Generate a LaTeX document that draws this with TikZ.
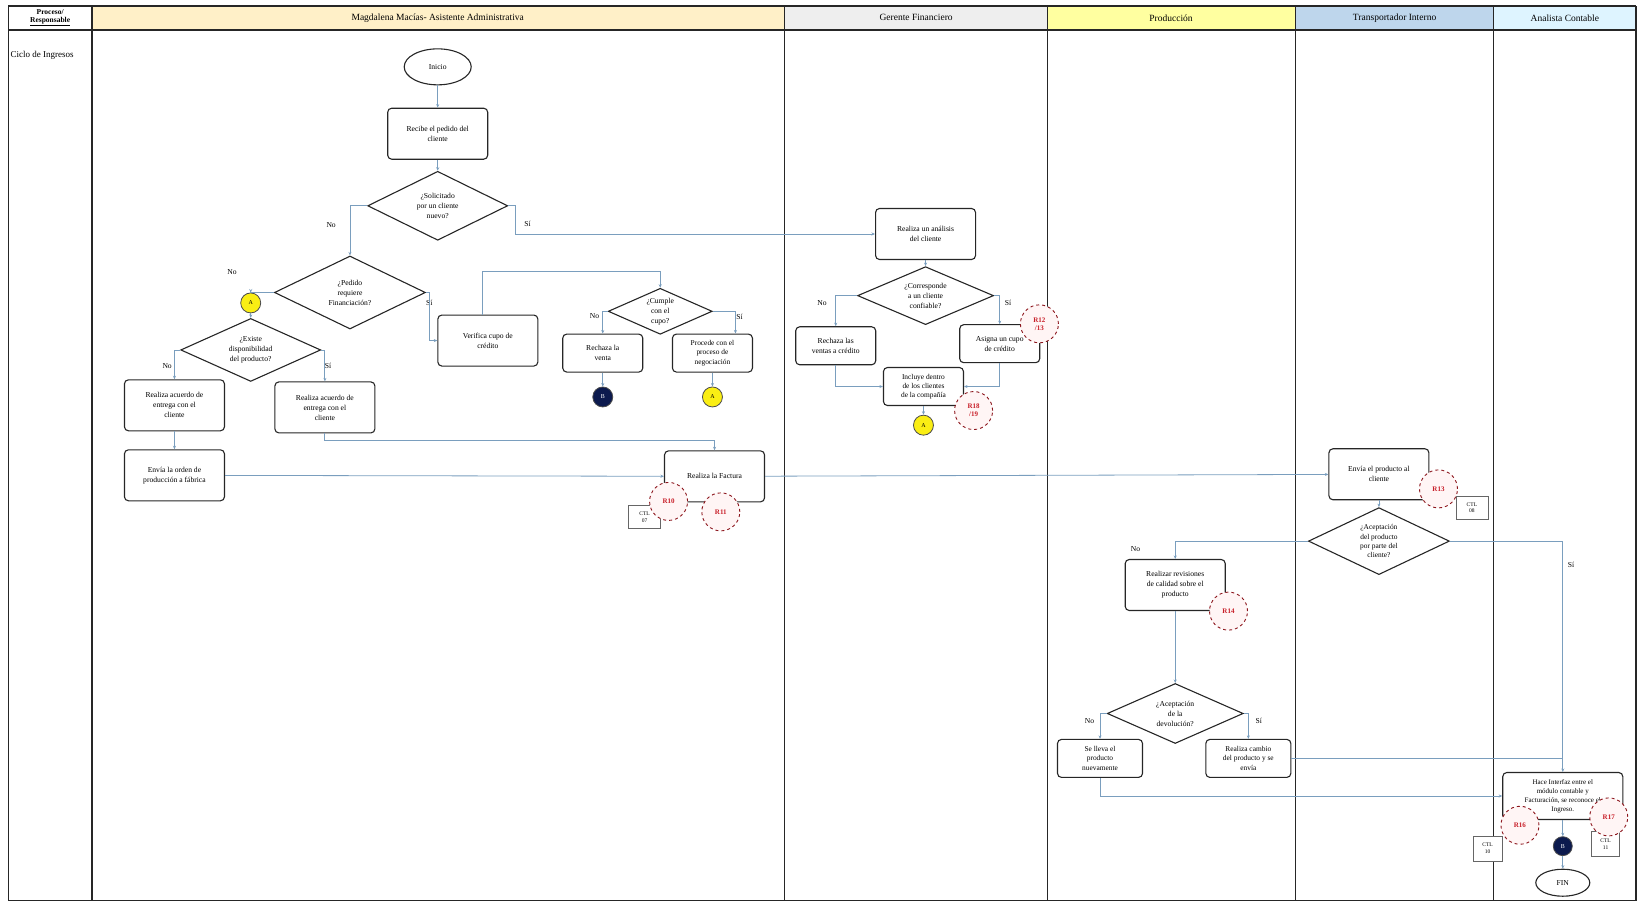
\documentclass[tikz,border=0pt]{standalone}
\usepackage{fontspec}
\setmainfont{Liberation Serif}
\usetikzlibrary{positioning,shapes.geometric,arrows.meta}
\definecolor{flowblue}{RGB}{122,158,190}
\definecolor{hdadmin}{RGB}{255,240,200}
\definecolor{hdfin}{RGB}{238,238,238}
\definecolor{hdprod}{RGB}{255,255,160}
\definecolor{hdtrans}{RGB}{190,214,236}
\definecolor{hdcont}{RGB}{222,244,255}
\definecolor{conafill}{RGB}{250,238,20}
\definecolor{conbfill}{RGB}{12,26,78}
\definecolor{riskred}{RGB}{200,30,40}
\newcommand{\boxfont}{\fontsize{7.6}{10}\selectfont}
\newcommand{\boxfonttight}{\fontsize{7.4}{9.2}\selectfont}
\tikzset{
    bigbox/.style={
        rectangle,
        rounded corners=4pt,
        draw=black!85,
        line width=1.1pt, % borde grueso
        fill=white,
        minimum width=100pt,
        minimum height=51pt,
        align=center,
        inner sep=1pt,
        font=\boxfont
    },
    smallbox/.style={
        bigbox,
        minimum width=80pt,
        minimum height=38pt
    },
    decnode/.style={
        diamond,
        aspect=2,
        draw=black!85,
        line width=1.1pt,
        fill=white,
        inner sep=0pt,
        align=center,
        font=\boxfont
    },
    termnode/.style={
        ellipse,
        draw=black!85,
        line width=1.1pt,
        fill=white,
        inner sep=0pt,
        font=\fontsize{7.6}{9}\selectfont
    },
    conanode/.style={
        circle,
        draw=black!70,
        line width=0.8pt,
        fill=conafill,
        minimum size=20pt,
        inner sep=0pt,
        font=\fontsize{6}{7}\selectfont
    },
    conbnode/.style={
        conanode,
        fill=conbfill,
        text=white
    },
    risknode/.style={
        circle,
        draw=riskred!70!black,
        dashed,
        line width=0.9pt,
        fill=red!4,
        minimum size=38pt,
        inner sep=0pt,
        align=center,
        text=riskred,
        font=\bfseries\fontsize{7}{8}\selectfont
    },
    ctlnode/.style={
        rectangle,
        draw=black!60,
        fill=white,
        minimum width=32pt,
        minimum height=23pt,
        inner sep=0pt,
        align=center,
        font=\fontsize{5.5}{6.5}\selectfont
    },
    lbl/.style={font=\fontsize{7.6}{9}\selectfont, inner sep=1pt},
    headtxt/.style={font=\fontsize{9.5}{10}\selectfont, align=center, inner sep=0pt},
    flow/.style={draw=flowblue, line width=0.8pt, -{Stealth[length=3.5pt,width=3pt]}},
    plainflow/.style={draw=flowblue, line width=0.8pt},
    laneline/.style={draw=black!85, line width=1.2pt}
}

\begin{document}
\begin{tikzpicture}[x=1.0446pt, y=-1.0446pt]
    \useasboundingbox (0,0) rectangle (1568,864);
    % cabecera de carriles
    \fill[hdadmin] (88,6) rectangle (751,29);
    \fill[hdfin] (751,6) rectangle (1003,29);
    \fill[hdprod] (1003,6) rectangle (1240,29);
    \fill[hdtrans] (1240,6) rectangle (1430,29);
    \fill[hdcont] (1430,6) rectangle (1566,29);
    \draw[laneline] (8,6) rectangle (1566,862);
    \draw[laneline, line width=1.8pt] (8,6) -- (1566,6);
    \draw[laneline, line width=1.6pt] (8,29) -- (1566,29);
    \foreach \xx in {88,751,1003,1240,1430}
        \draw[laneline] (\xx,6) -- (\xx,862);
    \node[headtxt, font=\bfseries\fontsize{7.5}{8.5}\selectfont] (hresp) at (48,17) {Proceso/\\\underline{Responsable}};
    \node[headtxt] (hadmin) at (419,17) {Magdalena Macías- Asistente Administrativa};
    \node[headtxt] (hfin) at (877,17) {Gerente Financiero};
    \node[headtxt] (hprod) at (1121,17) {Producción};
    \node[headtxt] (htrans) at (1335,17) {Transportador Interno};
    \node[headtxt] (hcont) at (1498,17) {Analista Contable};
    \node[headtxt, font=\fontsize{9}{10}\selectfont, anchor=west] (hciclo) at (10,53) {Ciclo de Ingresos};

    % asistente administrativa
    \node[termnode, minimum width=67pt, minimum height=36pt] (inicio) at (419,64) {Inicio};
    \node[bigbox] (recibe) at (419,128) {Recibe el pedido del\\cliente};
    \node[decnode, minimum width=140pt, minimum height=69pt] (d1) at (419,197) {¿Solicitado\\por un cliente\\nuevo?};
    \node[decnode, minimum width=151pt, minimum height=73pt] (d2) at (335,280) {¿Pedido\\requiere\\Financiación?};
    \node[conanode] (a1) at (240,290) {A};
    \node[decnode, minimum width=140pt, minimum height=63pt] (d3) at (240,335) {¿Existe\\disponibilidad\\del producto?};
    \node[bigbox] (acuno) at (167,388) {Realiza acuerdo de\\entrega con el\\cliente};
    \node[bigbox] (acusi) at (311,390) {Realiza acuerdo de\\entrega con el\\cliente};
    \node[bigbox] (orden) at (167,455) {Envía la orden de\\producción a fábrica};
    \node[bigbox] (verifica) at (467,326) {Verifica cupo de\\crédito};
    \node[decnode, minimum width=104pt, minimum height=46pt] (d4) at (632,298) {¿Cumple\\con el\\cupo?};
    \node[smallbox] (rechaza) at (577,338) {Rechaza la\\venta};
    \node[smallbox, font=\boxfonttight] (procede) at (682,338) {Procede con el\\proceso de\\negociación};
    \node[conbnode] (b1) at (577,380) {B};
    \node[conanode] (a2) at (682,380) {A};
    \node[bigbox] (factura) at (684,456) {Realiza la Factura};
    \node[ctlnode] (ctl07) at (617,495) {CTL\\07};
    \node[risknode] (r10) at (640,480) {R10};
    \node[risknode] (r11) at (690,490) {R11};

    % gerente financiero
    \node[bigbox] (analisis) at (886,224) {Realiza un análisis\\del cliente};
    \node[decnode, minimum width=136pt, minimum height=58pt] (d5) at (886,283) {¿Corresponde\\a un cliente\\confiable?};
    \node[smallbox] (rechcred) at (800,331) {Rechaza las\\ventas a crédito};
    \node[smallbox] (asigna) at (957,329) {Asigna un cupo\\de crédito};
    \node[smallbox, font=\boxfonttight] (incluye) at (884,370) {Incluye dentro\\de los clientes\\de la compañía};
    \node[conanode] (a3) at (884,407) {A};
    \node[risknode] (r12) at (995,310) {R12\\/13};
    \node[risknode] (r18) at (932,393) {R18\\/19};

    % transportador interno
    \node[bigbox] (envia) at (1320,454) {Envía el producto al\\cliente};
    \node[ctlnode] (ctl08) at (1409,486) {CTL\\08};
    \node[risknode] (r13) at (1377,468) {R13};
    \node[decnode, minimum width=141pt, minimum height=67pt, font=\boxfonttight] (d6) at (1320,518) {¿Aceptación\\del producto\\por parte del\\cliente?};

    % produccion
    \node[bigbox] (revision) at (1125,560) {Realizar revisiones\\de calidad sobre el\\producto};
    \node[risknode] (r14) at (1176,585) {R14};
    \node[decnode, minimum width=136pt, minimum height=60pt] (d7) at (1125,683) {¿Aceptación\\de la\\devolución?};
    \node[smallbox, minimum width=85pt, font=\boxfonttight] (lleva) at (1053,726) {Se lleva el\\producto\\nuevamente};
    \node[smallbox, minimum width=85pt, font=\boxfonttight] (cambio) at (1195,726) {Realiza cambio\\del producto y se\\envía};

    % analista contable
    \node[bigbox, minimum width=120pt, minimum height=47pt, font=\fontsize{7}{9}\selectfont] (interfaz) at (1496,762) {Hace Interfaz entre el\\módulo contable y\\Facturación, se reconoce el\\Ingreso.};
    \node[ctlnode, minimum width=29pt, minimum height=25pt] (ctl10) at (1424,812) {CTL\\10};
    \node[ctlnode, minimum width=28pt, minimum height=25pt] (ctl11) at (1537,808) {CTL\\11};
    \node[risknode] (r16) at (1455,790) {R16};
    \node[risknode] (r17) at (1540,782) {R17};
    \node[conbnode, minimum size=19pt] (b2) at (1496,810) {B};
    \node[termnode, minimum width=54pt, minimum height=27pt] (fin) at (1496,845) {FIN};

    % etiquetas
    \node[lbl] (ld1no) at (317,215) {No};
    \node[lbl] (ld1si) at (505,214) {Sí};
    \node[lbl] (ld2no) at (222,260) {No};
    \node[lbl] (ld2si) at (411,290) {Sí};
    \node[lbl] (ld3no) at (160,350) {No};
    \node[lbl] (ld3si) at (314,350) {Sí};
    \node[lbl] (ld4no) at (569,303) {No};
    \node[lbl] (ld4si) at (708,303) {Sí};
    \node[lbl] (ld5no) at (787,290) {No};
    \node[lbl] (ld5si) at (965,290) {Sí};
    \node[lbl] (ld6no) at (1087,526) {No};
    \node[lbl] (ld6si) at (1504,541) {Sí};
    \node[lbl] (ld7no) at (1043,690) {No};
    \node[lbl] (ld7si) at (1205,690) {Sí};

    % conectores
    \draw[flow] (inicio) -- (recibe);
    \draw[flow] (recibe) -- (d1);
    \draw[flow] (d1.west) -| (d2.north);
    \draw[flow] (d1.east) -- ++(7,0) |- (analisis.west);
    \draw[flow] (d2.west) -| (a1.north);
    \draw[flow] (d2.east) -- ++(3,0) |- (verifica.west);
    \draw[flow] (a1) -- (d3);
    \draw[flow] (d3.west) -| (acuno.north);
    \draw[flow] (d3.east) -| (acusi.north);
    \draw[flow] (acuno) -- (orden);
    \draw[flow] (acusi.south) -- ++(0,7) -| (factura.north);
    \draw[flow] (orden) -- (factura);
    \draw[flow] ([xshift=-5pt]verifica.north) -- ++(0,-41) -| (d4.north);
    \draw[flow] (d4.west) -| (rechaza.north);
    \draw[flow] (d4.east) -| ([xshift=23pt]procede.north);
    \draw[flow] (rechaza) -- (b1);
    \draw[flow] (procede) -- (a2);
    \draw[flow] (factura) -- (envia);
    \draw[flow] (analisis) -- (d5);
    \draw[flow] (d5.west) -| (rechcred.north);
    \draw[flow] (d5.east) -| (asigna.north);
    \draw[flow] (rechcred.south) |- (incluye.west);
    \draw[flow] (asigna.south) |- (incluye.east);
    \draw[flow] (incluye) -- (a3);
    \draw[flow] (envia) -- (d6);
    \draw[flow] (d6.west) -| (revision.north);
    \draw[flow] (d6.east) -| (interfaz.north);
    \draw[flow] (revision) -- (d7);
    \draw[flow] (d7.west) -| (lleva.north);
    \draw[flow] (d7.east) -| (cambio.north);
    \draw[flow] (lleva.south) |- (interfaz.west);
    \draw[plainflow] (cambio.east) -- (cambio.east -| interfaz.north);
    \draw[flow] (interfaz) -- (b2);
    \draw[flow] (b2) -- (fin);
\end{tikzpicture}
\end{document}
